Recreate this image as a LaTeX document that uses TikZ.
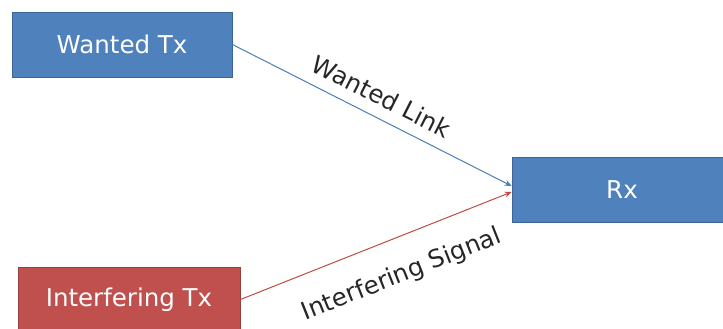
\documentclass[tikz,border=0pt]{standalone}
\usepackage{fontspec}
\setmainfont{DejaVu Sans}
\usetikzlibrary{arrows.meta}
\definecolor{boxblue}{HTML}{4F81BD}
\definecolor{boxblueedge}{HTML}{3A6596}
\definecolor{boxred}{HTML}{C0504D}
\definecolor{boxrededge}{HTML}{94403C}
\definecolor{linkblue}{HTML}{4A7EBB}
\definecolor{linkred}{HTML}{BE4B48}
\tikzset{
  txbox/.style={draw, line width=0.8pt, minimum height=65pt, inner sep=0pt,
    text=white, font=\fontsize{24.5}{28}\selectfont},
  bluebox/.style={txbox, fill=boxblue, draw=boxblueedge},
  redbox/.style={txbox, fill=boxred, draw=boxrededge},
  link/.style={line width=1pt, -{Stealth[length=7pt,width=6pt]}},
  lbl/.style={font=\fontsize{24.5}{28}\selectfont, text=black!85, sloped}
}
\begin{document}
\begin{tikzpicture}[x=1pt,y=-1pt]
\useasboundingbox (0,0) rectangle (723,329);
\begin{scope}
\clip (0,0) rectangle (723,329);
\node[bluebox, minimum width=220pt] (wtx) at (122,44.5) {Wanted Tx};
\node[bluebox, minimum width=220pt] (rx) at (622,190) {Rx};
\node[redbox, minimum width=222pt] (itx) at (129,299.5) {Interfering Tx};
\end{scope}
\coordinate (rxin1) at ([yshift=4pt]rx.west);
\coordinate (rxin2) at ([yshift=-2pt]rx.west);
\draw[link, draw=linkblue] (wtx.east) -- node[lbl, above=8pt, pos=0.50] {Wanted Link} (rxin1);
\draw[link, draw=linkred] (itx.east) -- node[lbl, below=21pt, pos=0.545] {Interfering Signal} (rxin2);
\end{tikzpicture}
\end{document}
